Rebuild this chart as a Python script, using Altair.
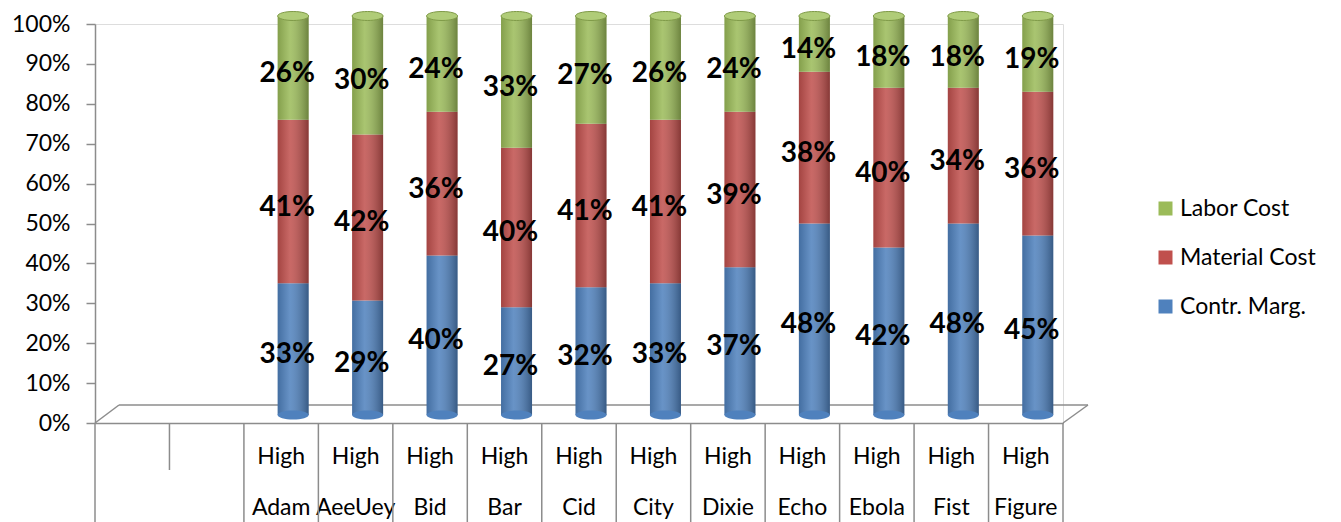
import altair as alt
import pandas as pd

names = ["Adam", "AeeUey", "Bid", "Bar", "Cid", "City", "Dixie", "Echo", "Ebola", "Fist", "Figure"]
level = "High"
contr_marg = [33, 29, 40, 27, 32, 33, 37, 48, 42, 48, 45]
material_cost = [41, 42, 36, 40, 41, 41, 39, 38, 40, 34, 36]
labor_cost = [26, 30, 24, 33, 27, 26, 24, 14, 18, 18, 19]
series = ["Contr. Marg.", "Material Cost", "Labor Cost"]
blank_cats = ["_1", "_2"]
y_ticks = [0, 0.1, 0.2, 0.3, 0.4, 0.5, 0.6, 0.7, 0.8, 0.9, 1.0]

cats = blank_cats + [f"{level}|{n}" for n in names]
rows = []
for i, n in enumerate(names):
    for k, (s, vals) in enumerate(zip(series, [contr_marg, material_cost, labor_cost])):
        rows.append({"cat": f"{level}|{n}", "series": s, "order": k, "value": vals[i]})
df = pd.DataFrame(rows)

W, H = 968, 399
FONT = "Lato"
GREEN, RED, BLUE = "#9BBB59", "#C0504D", "#4F81BD"
AX = "#8c8c8c"

xscale = alt.Scale(domain=cats, paddingInner=0, paddingOuter=0)
xaxis = alt.Axis(labelExpr="indexof(datum.value, '_') == 0 ? '' : split(datum.value, '|')",
                 labelAngle=0, ticks=False, labelFont=FONT, labelFontSize=23,
                 labelColor="black", labelLineHeight=51, labelBaseline="top",
                 labelPadding=22, domainColor=AX, domainWidth=1.5, labelOverlap=False)
yscale = alt.Scale(domain=[0, 1], nice=False)
yaxis = alt.Axis(values=y_ticks, format=".0%", grid=False, labelFont=FONT,
                 labelFontSize=23, labelColor="black", tickSize=9, tickColor=AX,
                 tickWidth=1.5, domainColor=AX, domainWidth=1.5, labelPadding=16,
                 labelOverlap=False)

def X():
    return alt.X("cat:N", scale=xscale, sort=cats, title=None, axis=xaxis)

base = alt.Chart(df).transform_stack(
    stack="value", groupby=["cat"], as_=["v0", "v1"], offset="normalize",
    sort=[alt.SortField("order")]
).transform_calculate(mid="(datum.v0 + datum.v1) / 2", label="datum.value + '%'")

bars = base.mark_bar(size=31, xOffset=12, yOffset=-8, y2Offset=-8).encode(
    x=X(),
    y=alt.Y("v1:Q", scale=yscale, title=None, axis=yaxis),
    y2="v0:Q",
    color=alt.Color("series:N",
                    scale=alt.Scale(domain=["Labor Cost", "Material Cost", "Contr. Marg."],
                                    range=[GREEN, RED, BLUE]),
                    legend=alt.Legend(title=None, orient="none", legendX=1059, legendY=173,
                                      symbolType="square", symbolSize=196, symbolStrokeWidth=0,
                                      labelFont=FONT, labelFontSize=23, labelColor="black",
                                      rowPadding=25, labelOffset=3, padding=0)),
    order=alt.Order("order:Q"),
)

shade = base.transform_filter("datum.order == 0").mark_bar(
    size=31, xOffset=12, yOffset=-8, y2Offset=-8,
    color=alt.LinearGradient(gradient="linear", x1=0, x2=1, y1=0, y2=0, stops=[
        alt.GradientStop(color="rgba(0,0,0,0.15)", offset=0),
        alt.GradientStop(color="rgba(255,255,255,0.14)", offset=0.4),
        alt.GradientStop(color="rgba(0,0,0,0.30)", offset=1),
    ])
).encode(x=X(), y=alt.Y(datum=0, scale=yscale, title=None, axis=yaxis), y2=alt.datum(1))

ELL = "M-1,0A1,0.29,0,1,1,1,0A1,0.29,0,1,1,-1,0Z"
bottom_cap = base.transform_filter("datum.order == 0").mark_point(
    shape=ELL, size=961, filled=True, color=BLUE, opacity=1, xOffset=12, yOffset=-8
).encode(x=X(), y=alt.Y(datum=0, scale=yscale, title=None, axis=yaxis))
top_cap = base.transform_filter("datum.order == 0").mark_point(
    shape=ELL, size=961, filled=True, color="#B0CC78", opacity=1, stroke="#7f9a48",
    strokeWidth=1, xOffset=12, yOffset=-8
).encode(x=X(), y=alt.Y(datum=1, scale=yscale, title=None, axis=yaxis))

labels = base.mark_text(font=FONT, fontSize=28, fontWeight="bold", color="black",
                        dx=6, dy=-2).encode(
    x=X(),
    y=alt.Y("mid:Q", scale=yscale, title=None, axis=yaxis),
    text="label:N",
)

one = alt.Data(values=[{}])
floor_back = alt.Chart(one).mark_rule(color=AX, strokeWidth=1.5).encode(
    x=alt.value(24), x2=alt.value(W + 25), y=alt.value(H - 18), y2=alt.value(H - 18))
floor_left = alt.Chart(one).mark_rule(color=AX, strokeWidth=1.5).encode(
    x=alt.value(0), x2=alt.value(24), y=alt.value(H), y2=alt.value(H - 18))
floor_right = alt.Chart(one).mark_rule(color=AX, strokeWidth=1.5).encode(
    x=alt.value(W), x2=alt.value(W + 25), y=alt.value(H), y2=alt.value(H - 18))

sep_data = alt.Data(values=[{"cat": c} for c in cats])
sep_long = alt.Chart(sep_data).transform_filter("datum.cat != '_2'").mark_rule(
    color=AX, strokeWidth=1.5).encode(
    x=alt.X("cat:N", bandPosition=0, scale=xscale, sort=cats, title=None, axis=xaxis),
    y=alt.value(H), y2=alt.value(H + 100))
sep_short = alt.Chart(sep_data).transform_filter("datum.cat == '_2'").mark_rule(
    color=AX, strokeWidth=1.5).encode(
    x=alt.X("cat:N", bandPosition=0, scale=xscale, sort=cats, title=None, axis=xaxis),
    y=alt.value(H), y2=alt.value(H + 47))
sep_end = alt.Chart(one).mark_rule(color=AX, strokeWidth=1.5).encode(
    x=alt.value(W), y=alt.value(H), y2=alt.value(H + 100))

chart = alt.layer(
    floor_back, floor_left, floor_right, bars, shade, bottom_cap, top_cap, labels,
    sep_long, sep_short, sep_end
).properties(
    width=W, height=H,
    padding={"left": 87, "top": 16, "right": 262, "bottom": 99},
    autosize=alt.AutoSizeParams(type="none"),
).configure_view(stroke=None).configure(background="white")

chart.save("out.html", embed_options={"renderer": "svg", "actions": False})
